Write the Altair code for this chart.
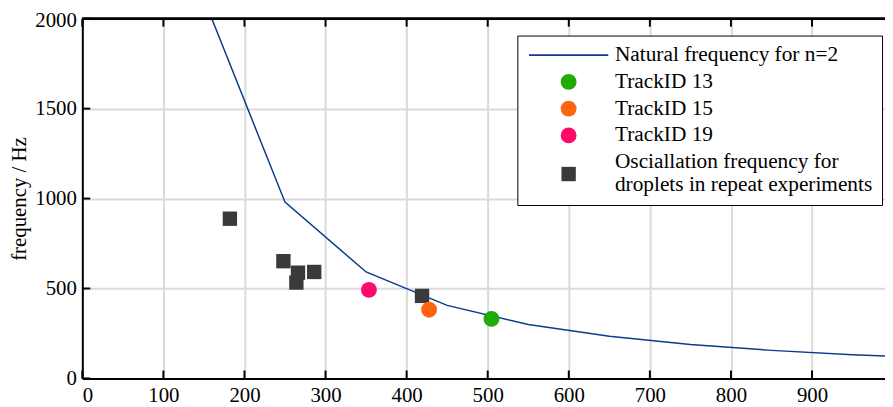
import altair as alt
import pandas as pd

# ---- data ----
curve_d = [150, 250, 350, 450, 550, 650, 750, 850, 950, 1050]
curve_f = [2110, 980, 592, 406, 300, 234, 189, 156, 132, 114]

track_names = ["TrackID 13", "TrackID 15", "TrackID 19"]
track_d = [504.6, 427.7, 353.5]
track_f = [331, 382, 492]

repeat_d = [182, 248, 266, 264, 286, 419]
repeat_f = [888, 652, 588, 533, 592, 459]

x_ticks = [0, 100, 200, 300, 400, 500, 600, 700, 800, 900]
y_ticks = [0, 500, 1000, 1500, 2000]

LINE = "Natural frequency for n=2"
SQ = "Osciallation frequency for droplets in repeat experiments"
SQ_LINES = ["Osciallation frequency for", "droplets in repeat experiments"]
series = [LINE] + track_names + [SQ]
colors = ["#0b3b8f", "#22aa08", "#ff6510", "#ff0a6a", "#3a3a3a"]
shapes = ["M-5,-0.1H5V0.1H-5Z", "circle", "circle", "circle", "square"]
sizes = [256, 256, 256, 256, 210]

FONT = "Liberation Serif"
W, H = 810, 363

curve = pd.DataFrame({"d": curve_d, "f": curve_f})
pts = pd.DataFrame({
    "d": repeat_d + track_d,
    "f": repeat_f + track_f,
    "s": [SQ] * len(repeat_d) + track_names,
})
xt = pd.DataFrame({"t": x_ticks})
yt = pd.DataFrame({"t": y_ticks})

xs = alt.Scale(domain=[0, 990], nice=False, zero=False)
ys = alt.Scale(domain=[0, 2000], nice=False)

common = dict(grid=True, gridColor="#dadada", gridWidth=2, ticks=False,
              domainColor="black", domainWidth=2,
              labelFont=FONT, labelFontSize=21, labelColor="black", labelPadding=6)
x_axis = alt.Axis(values=x_ticks, format="d", title=None, **common)
y_axis = alt.Axis(values=y_ticks, format="d", title="frequency / Hz",
                  titleFont=FONT, titleFontSize=21, titleFontWeight="normal",
                  titleColor="black", titlePadding=5,
                  labelOffset=alt.ExprRef(expr="datum.value == 2000 ? 2 : 0"),
                  **common)

line = alt.Chart(curve).mark_line(color="#0b3b8f", strokeWidth=1.5, clip=True).encode(
    x=alt.X("d:Q", scale=xs, axis=x_axis),
    y=alt.Y("f:Q", scale=ys, axis=y_axis),
)

label_expr = ("datum.label == '" + SQ + "' ? ['" + SQ_LINES[0] + "', '"
              + SQ_LINES[1] + "'] : datum.label")
base_expr = "datum.index == 4 ? 'line-bottom' : 'middle'"
leg = alt.Legend(title=None, labelExpr=label_expr,
                 labelBaseline=alt.ExprRef(expr=base_expr))

points = alt.Chart(pts).mark_point(filled=True, opacity=1).encode(
    x=alt.X("d:Q", scale=xs, axis=x_axis),
    y=alt.Y("f:Q", scale=ys, axis=y_axis),
    color=alt.Color("s:N", scale=alt.Scale(domain=series, range=colors), legend=leg),
    shape=alt.Shape("s:N", scale=alt.Scale(domain=series, range=shapes), legend=leg),
    size=alt.Size("s:N", scale=alt.Scale(type="ordinal", domain=series, range=sizes),
                  legend=leg),
)

top = alt.Chart(yt).mark_rule(color="black", strokeWidth=2).encode(
    y=alt.datum(2000, scale=ys, axis=y_axis)
)

tick_b = alt.Chart(xt).mark_rule(color="black", strokeWidth=2).encode(
    x=alt.X("t:Q", scale=xs, axis=x_axis), y=alt.value(H), y2=alt.value(H - 8)
)
tick_t = alt.Chart(xt).mark_rule(color="black", strokeWidth=2).encode(
    x=alt.X("t:Q", scale=xs, axis=x_axis), y=alt.value(0), y2=alt.value(8)
)
tick_l = alt.Chart(yt).mark_rule(color="black", strokeWidth=2).encode(
    y=alt.Y("t:Q", scale=ys, axis=y_axis), x=alt.value(0), x2=alt.value(8)
)

chart = alt.layer(line, points, top, tick_b, tick_t, tick_l).properties(
    width=W, height=H,
    padding={"left": 75, "top": 9, "right": 0, "bottom": 26},
    autosize=alt.AutoSizeParams(type="none"),
).configure(font=FONT).configure_view(strokeWidth=0).configure_legend(
    orient="none", legendX=439, legendY=17,
    strokeColor="black", strokeWidth=1, fillColor="white",
    padding=9, cornerRadius=0,
    labelFont=FONT, labelFontSize=21.5, labelColor="black", labelLimit=400,
    symbolOffset=32, labelOffset=36, rowPadding=4, symbolOpacity=1,
)

chart.save("out.html", embed_options={"renderer": "svg", "actions": False})
